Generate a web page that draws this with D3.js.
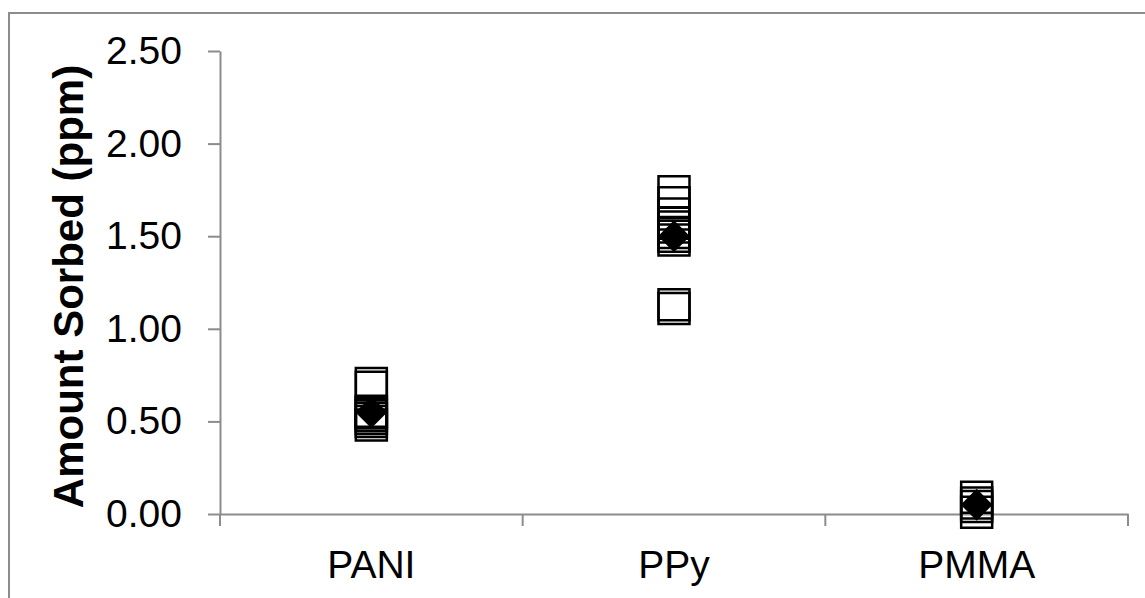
<!DOCTYPE html>
<html>
<head>
<meta charset="utf-8">
<script src="https://cdn.jsdelivr.net/npm/d3@7"></script>
<style>
  html, body { margin: 0; padding: 0; background: #fff; }
  svg { display: block; font-family: "Liberation Sans", Arial, sans-serif; }
</style>
</head>
<body>
<svg id="chart" width="1145" height="598"></svg>
<script>
// ---- data ----
const categories = ["PANI", "PPy", "PMMA"];

// individual replicate measurements (open squares)
const paniValues = [0.705, 0.685, 0.555, 0.545, 0.53, 0.515, 0.50, 0.48];
const ppyValues = [1.74, 1.68, 1.62, 1.57, 1.55, 1.52, 1.50, 1.48, 1.13, 1.11];
const pmmaValues = [0.09, 0.06, 0.04, 0.01];

// averages (filled diamonds)
const meanValues = [0.55, 1.50, 0.05];

const yTicks = [0, 0.5, 1.0, 1.5, 2.0, 2.5];

// ---- layout ----
const svg = d3.select("#chart");
const axisColor = "#8c8c8c";

const x = d3.scaleBand()
    .domain(categories)
    .range([220, 1128]);

const y = d3.scaleLinear()
    .domain([0, 2.5])
    .range([514, 51]);

// outer chart frame
svg.append("rect")
    .attr("x", 9)
    .attr("y", 13)
    .attr("width", 1160)
    .attr("height", 620)
    .attr("fill", "none")
    .attr("stroke", axisColor)
    .attr("stroke-width", 2);

// Axes
const yAxis = d3.axisLeft(y)
    .tickValues(yTicks)
    .tickFormat(d3.format(".2f"))
    .tickSizeInner(12)
    .tickSizeOuter(0)
    .tickPadding(26);

const xAxis = d3.axisBottom(x)
    .tickSize(0)
    .tickPadding(36);

const gy = svg.append("g")
    .attr("transform", `translate(${x.range()[0]},0)`)
    .call(yAxis);

const gx = svg.append("g")
    .attr("transform", `translate(0,${y(0)})`)
    .call(xAxis);

// category boundary ticks on the x axis
const boundaries = categories.map(c => x(c)).concat([x.range()[1]]);
gx.selectAll(".bound")
    .data(boundaries)
    .enter()
    .append("line")
    .attr("class", "bound")
    .attr("x1", d => d)
    .attr("x2", d => d)
    .attr("y1", 0)
    .attr("y2", 12)
    .attr("stroke", axisColor)
    .attr("stroke-width", 2);

svg.selectAll(".domain, .tick line")
    .attr("stroke", axisColor)
    .attr("stroke-width", 2);

gy.selectAll(".tick text")
    .attr("fill", "#000")
    .style("font-size", "39px");

gx.selectAll(".tick text")
    .attr("fill", "#000")
    .style("font-size", "39px");

// y axis title
svg.append("text")
    .attr("transform", `translate(83,${(y(0) + y(2.5)) / 2 + 4}) rotate(-90)`)
    .attr("text-anchor", "middle")
    .style("font-size", "42px")
    .style("font-weight", "bold")
    .attr("fill", "#000")
    .text("Amount Sorbed (ppm)");

// ---- markers ----
const points = [];
[paniValues, ppyValues, pmmaValues].forEach((vals, i) => {
    vals.forEach(v => points.push({ cat: categories[i], value: v }));
});

const cx = c => x(c) + x.bandwidth() / 2;

const square = d3.symbol().type(d3.symbolSquare).size(31 * 31);
const diamond = d3.symbol().type(d3.symbolSquare).size(2 * 16 * 16);

svg.selectAll(".pt")
    .data(points)
    .enter()
    .append("path")
    .attr("class", "pt")
    .attr("d", square)
    .attr("transform", d => `translate(${cx(d.cat)},${y(d.value)})`)
    .attr("fill", "none")
    .attr("stroke", "#000")
    .attr("stroke-width", 2.5);

svg.selectAll(".mean")
    .data(meanValues)
    .enter()
    .append("path")
    .attr("class", "mean")
    .attr("d", diamond)
    .attr("transform", (d, i) => `translate(${cx(categories[i])},${y(d)}) rotate(45)`)
    .attr("fill", "#000");
</script>
</body>
</html>
